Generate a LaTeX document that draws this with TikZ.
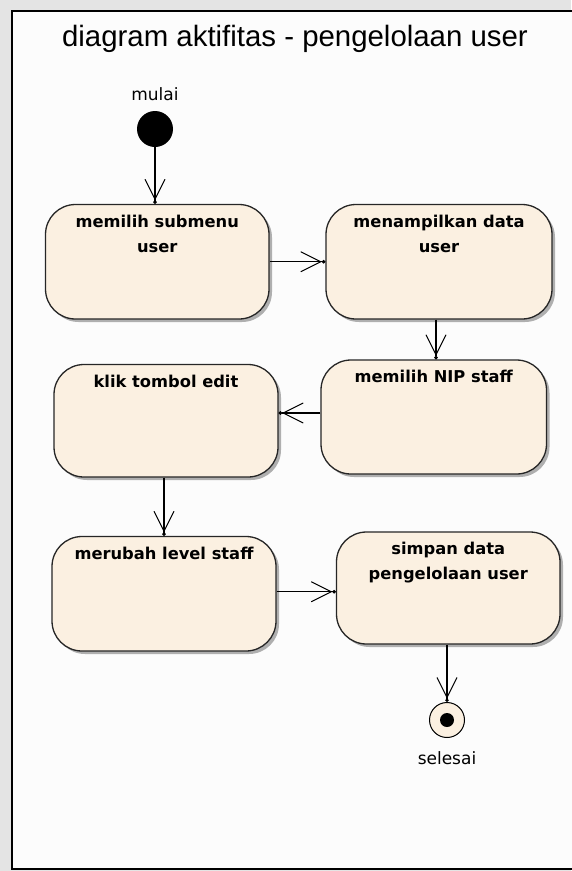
\documentclass[tikz,border=0pt]{standalone}
\usepackage{fontspec}
\setmainfont{DejaVu Sans}
\newfontfamily\titlefont{Liberation Sans}
\usetikzlibrary{arrows.meta,shadows}
\definecolor{boxfill}{RGB}{251,240,225}
\definecolor{framebg}{RGB}{252,252,252}
\definecolor{outerbg}{RGB}{228,228,228}
\begin{document}
\begin{tikzpicture}[x=1pt,y=-1pt,
  actbox/.style={draw=black!85, line width=1.3pt, fill=boxfill, rounded corners=30pt,
    inner sep=0pt,
    drop shadow={shadow xshift=3pt, shadow yshift=-3pt, fill=black, opacity=0.3}},
  boxtext/.style={anchor=north, yshift=-11pt, align=center, inner sep=0pt,
    font=\fontsize{16.3}{25}\selectfont\bfseries},
  flow/.style={line width=1.1pt,
    -{Straight Barb[length=20pt,width=20pt,line width=1pt] Circle[length=3.5pt]}},
  lbl/.style={font=\fontsize{17}{20}\selectfont, inner sep=0pt, anchor=base}]
\useasboundingbox (0,0) rectangle (571,871);
\fill[outerbg] (0,0) rectangle (571,871);
\draw[fill=framebg, line width=1.6pt] (12,11) rectangle (600,869);

\node[font=\fontsize{29.4}{34}\selectfont\titlefont, inner sep=0pt, anchor=base]
  (title) at (295,46) {diagram aktifitas - pengelolaan user};

\node[lbl] (mulai) at (155,100) {mulai};
\node[circle, fill=black, minimum size=36pt, inner sep=0pt] (start) at (155,129) {};

\node[actbox, minimum width=223.5pt, minimum height=114.5pt,
  label={[boxtext]north:{memilih submenu\\user}}] (b1) at (157.25,261.75) {};
\node[actbox, minimum width=226pt, minimum height=114.5pt,
  label={[boxtext]north:{menampilkan data\\user}}] (b2) at (439,261.75) {};
\node[actbox, minimum width=224pt, minimum height=112.5pt,
  label={[boxtext]north:{klik tombol edit}}] (b3) at (166,420.75) {};
\node[actbox, minimum width=225.5pt, minimum height=114pt,
  label={[boxtext]north:{memilih NIP staff}}] (b4) at (433.75,417) {};
\node[actbox, minimum width=224pt, minimum height=114.5pt,
  label={[boxtext]north:{merubah level staff}}] (b5) at (164,593.75) {};
\node[actbox, minimum width=223.5pt, minimum height=112pt,
  label={[boxtext]north:{simpan data\\pengelolaan user}}] (b6) at (448.25,588) {};

\node[circle, draw=black, line width=1pt, fill=boxfill, minimum size=35pt, inner sep=0pt]
  (end) at (447,720) {};
\node[circle, fill=black, minimum size=14pt, inner sep=0pt] (enddot) at (end.center) {};
\node[lbl] (selesai) at (447,764) {selesai};

\draw[flow] (start.south) -- (start.south |- b1.north);
\draw[flow] (b1.east) -- (b1.east -| b2.west);
\draw[flow] ([xshift=-3pt]b2.south) -- ([xshift=-3pt]b2.south |- b4.north);
\draw[flow] ([yshift=4pt]b4.west) -- ([yshift=4pt]b4.west -| b3.east);
\draw[flow] ([xshift=-2pt]b3.south) -- ([xshift=-2pt]b3.south |- b5.north);
\draw[flow] ([yshift=2pt]b5.east) -- ([yshift=2pt]b5.east -| b6.west);
\draw[flow] (end.north |- b6.south) -- (end.north);
\end{tikzpicture}
\end{document}
